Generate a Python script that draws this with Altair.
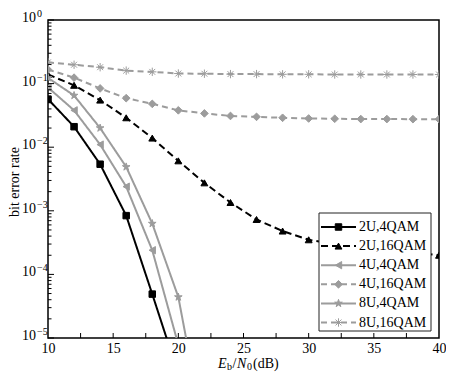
import altair as alt
import pandas as pd

# ---------------- data ----------------
snr = [10, 12, 14, 16, 18, 20, 22, 24, 26, 28, 30, 32, 34, 36, 38, 40]
series = ["2U,4QAM", "2U,16QAM", "4U,4QAM", "4U,16QAM", "8U,4QAM", "8U,16QAM"]

ber_2u_4qam = [0.057, 0.021, 0.0054, 8.4e-4, 4.9e-5, 2.7e-6]
ber_2u_16qam = [0.139, 0.094, 0.055, 0.029, 0.0139, 0.0061, 0.00275, 0.00135,
                7.3e-4, 4.8e-4, 3.5e-4, 3.0e-4, 2.7e-4, 2.4e-4, 2.2e-4, 2.0e-4]
ber_4u_4qam = [0.087, 0.038, 0.011, 0.0024, 2.4e-4, 7.8e-6]
ber_4u_16qam = [0.166, 0.124, 0.084, 0.059, 0.048, 0.038, 0.034, 0.031,
                0.030, 0.029, 0.0283, 0.028, 0.0277, 0.0277, 0.0276, 0.0276]
ber_8u_4qam = [0.123, 0.065, 0.020, 0.0049, 6.3e-4, 4.4e-5, 3e-7]
ber_8u_16qam = [0.216, 0.198, 0.181, 0.160, 0.153, 0.144, 0.143, 0.141,
                0.141, 0.140, 0.140, 0.139, 0.139, 0.139, 0.139, 0.139]

x_label_values = [10, 15, 20, 25, 30, 35, 40]
x_tick_values = [12.5, 15, 17.5, 20, 22.5, 25, 27.5, 30, 32.5, 35, 37.5]
y_exponents = [0, -1, -2, -3, -4, -5]

all_ber = [ber_2u_4qam, ber_2u_16qam, ber_4u_4qam, ber_4u_16qam, ber_8u_4qam, ber_8u_16qam]
rows = []
for name, vals in zip(series, all_ber):
    for x, v in zip(snr, vals):
        rows.append({"series": name, "snr": x, "ber": v})
df = pd.DataFrame(rows)

# ---------------- styles ----------------
W, H = 391, 318
FONT = "Liberation Serif"
BLACK = "#000000"
GRAY = "#9c9c9c"
STAR = ("M0,-1L0.223,-0.307L0.951,-0.309L0.361,0.117L0.588,0.809L0,0.38"
        "L-0.588,0.809L-0.361,0.117L-0.951,-0.309L-0.223,-0.307Z")
ASTER = "M-1,0L1,0M0,-1L0,1M-0.7,-0.7L0.7,0.7M-0.7,0.7L0.7,-0.7"

xs = alt.Scale(domain=[10, 40], nice=False, zero=False)
ys = alt.Scale(type="log", domain=[1e-5, 1], nice=False)
stroke_scale = alt.Scale(domain=series, range=[BLACK, BLACK, GRAY, GRAY, GRAY, GRAY])
fill_scale = alt.Scale(domain=series, range=[BLACK, BLACK, GRAY, GRAY, GRAY, "transparent"])
dash_scale = alt.Scale(domain=series, range=[[1, 0], [7, 4], [1, 0], [6, 4], [1, 0], [6, 4]])
shape_scale = alt.Scale(domain=series, range=["square", "triangle-up", "triangle-left",
                                              "diamond", STAR, ASTER])
size_scale = alt.Scale(domain=series, range=[42, 70, 70, 70, 95, 75])

base = alt.Chart(df)
lines = base.mark_line(clip=True, strokeWidth=2).encode(
    x=alt.X("snr:Q", scale=xs,
            axis=alt.Axis(values=x_label_values, ticks=False, domain=False, grid=False,
                          labelFont=FONT, labelFontSize=14, labelColor="black",
                          labelPadding=3, title=None, labelFlush=False)),
    y=alt.Y("ber:Q", scale=ys, axis=None),
    stroke=alt.Stroke("series:N", scale=stroke_scale, legend=None),
    strokeDash=alt.StrokeDash("series:N", scale=dash_scale, legend=None),
    detail="series:N",
)
points = base.mark_point(clip=True, filled=True, strokeWidth=1, opacity=1).encode(
    x=alt.X("snr:Q", scale=xs),
    y=alt.Y("ber:Q", scale=ys),
    shape=alt.Shape("series:N", scale=shape_scale, legend=None),
    fill=alt.Fill("series:N", scale=fill_scale, legend=None),
    stroke=alt.Stroke("series:N", scale=stroke_scale, legend=None),
    size=alt.Size("series:N", scale=size_scale, legend=None),
)

# ticks (inward)
xt = alt.Chart(pd.DataFrame({"v": x_tick_values})).mark_rule(color="black", strokeWidth=1).encode(
    x=alt.X("v:Q", scale=xs), y=alt.value(H), y2=alt.value(H - 5))

major = [10.0 ** e for e in y_exponents]
minor = [m * 10.0 ** e for e in range(-5, 0) for m in range(2, 10)]
ytmaj = alt.Chart(pd.DataFrame({"v": major})).mark_rule(color="black", strokeWidth=1).encode(
    y=alt.Y("v:Q", scale=ys), x=alt.value(0), x2=alt.value(6))
ytmin = alt.Chart(pd.DataFrame({"v": minor})).mark_rule(color="black", strokeWidth=1).encode(
    y=alt.Y("v:Q", scale=ys), x=alt.value(0), x2=alt.value(3.5))

# y tick labels 10^e
ylab_df = pd.DataFrame({"v": major, "e": [("\u2212" + str(-e)) if e < 0 else "0" for e in y_exponents]})
ylab_base = alt.Chart(ylab_df).mark_text(align="right", baseline="middle", font=FONT,
                                         fontSize=14, color="black", dy=-2).encode(
    y=alt.Y("v:Q", scale=ys), x=alt.value(-12), text=alt.value("10"))
ylab_exp = alt.Chart(ylab_df).mark_text(align="left", baseline="middle", font=FONT,
                                        fontSize=10, color="black", dy=-6).encode(
    y=alt.Y("v:Q", scale=ys), x=alt.value(-11), text="e:N")

one = pd.DataFrame({"a": [0]})


def piece(txt, x, y, size=14, style="normal", align="left", angle=0):
    return alt.Chart(one).mark_text(align=align, baseline="middle", font=FONT, fontSize=size,
                                    fontStyle=style, color="black", angle=angle).encode(
        x=alt.value(x), y=alt.value(y), text=alt.value(txt))


# x title: E_b/N_0(dB)
tx0, ty = 170, H + 26
xtitle = [
    piece("E", tx0, ty, 14, "italic"),
    piece("b", tx0 + 9, ty + 3, 10),
    piece("/", tx0 + 14.5, ty, 14),
    piece("N", tx0 + 19, ty, 14, "italic"),
    piece("0", tx0 + 29, ty + 3, 10),
    piece("(dB)", tx0 + 35, ty, 14),
]
ytitle = piece("bit error rate", -33, H / 2 + 3, 14, align="center", angle=270)

# legend
leg_df = pd.DataFrame({"series": series, "row": list(range(len(series)))})
leg_box = alt.Chart(one).mark_rect(fill="white", stroke="#222222", strokeWidth=1).encode(
    x=alt.value(271), x2=alt.value(383), y=alt.value(193), y2=alt.value(311))
leg_base = alt.Chart(leg_df).transform_calculate(py="207 + 19.1*datum.row")
leg_lines = leg_base.mark_rule(strokeWidth=2).encode(
    x=alt.value(273), x2=alt.value(308),
    y=alt.Y("py:Q", scale=None, axis=None),
    stroke=alt.Stroke("series:N", scale=stroke_scale, legend=None),
    strokeDash=alt.StrokeDash("series:N", scale=dash_scale, legend=None))
leg_pts = leg_base.mark_point(filled=True, strokeWidth=1, opacity=1).encode(
    x=alt.value(290.5),
    y=alt.Y("py:Q", scale=None, axis=None),
    shape=alt.Shape("series:N", scale=shape_scale, legend=None),
    fill=alt.Fill("series:N", scale=fill_scale, legend=None),
    stroke=alt.Stroke("series:N", scale=stroke_scale, legend=None),
    size=alt.Size("series:N", scale=size_scale, legend=None))
leg_txt = leg_base.mark_text(align="left", baseline="middle", font=FONT, fontSize=14,
                             color="black").encode(
    x=alt.value(311), y=alt.Y("py:Q", scale=None, axis=None), text="series:N")

chart = alt.layer(
    lines, points, xt, ytmaj, ytmin, ylab_base, ylab_exp, *xtitle, ytitle,
    leg_box, leg_lines, leg_pts, leg_txt,
).properties(
    width=W, height=H,
    autosize="none",
    padding={"left": 40, "top": 12, "right": 7, "bottom": 34},
    background="white",
).configure_view(stroke="black", strokeWidth=1.5)

chart.save("out.html", embed_options={"renderer": "svg", "actions": False})
